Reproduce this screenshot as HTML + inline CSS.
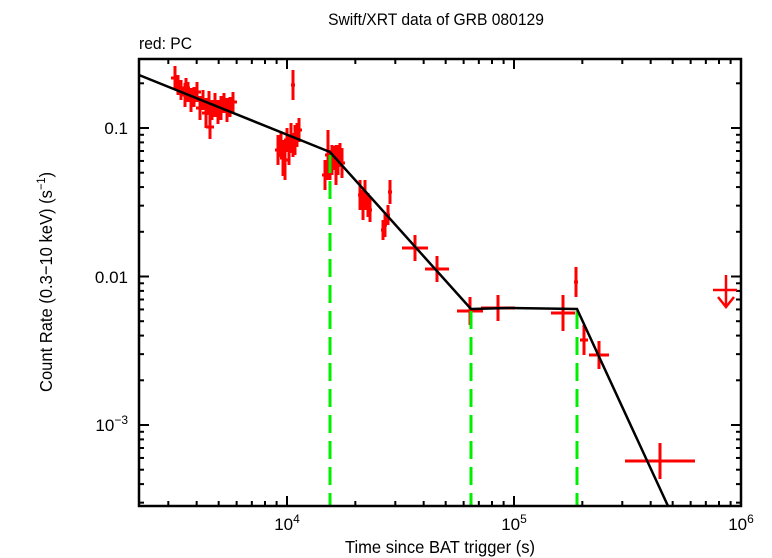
<!DOCTYPE html>
<html><head><meta charset="utf-8"><style>
html,body{margin:0;padding:0;background:#fff;}
svg{display:block;font-family:"Liberation Sans",sans-serif;}
</style></head><body>
<svg id="s" width="772" height="558" viewBox="0 0 772 558" xmlns="http://www.w3.org/2000/svg">
<rect width="772" height="558" fill="#fff"/>
<text transform="translate(436,25) scale(0.92,1)" font-size="17" text-anchor="middle">Swift/XRT data of GRB 080129</text>
<text transform="translate(139,49) scale(0.92,1)" font-size="17">red: PC</text>
<g id="data" stroke="#f00" stroke-width="3" fill="none"></g>
<g stroke="#0e0" stroke-width="3" stroke-dasharray="18,8">
<line x1="330" y1="155" x2="330" y2="505"/>
<line x1="471" y1="311" x2="471" y2="505"/>
<line x1="577" y1="311" x2="577" y2="505"/>
</g>
<polyline points="139,75 330,152 471,309 510,308 577,309 668,506" stroke="#000" stroke-width="2.5" fill="none"/>
<g id="ticks" stroke="#000" stroke-width="2"></g>
<rect x="139" y="59" width="602" height="447" fill="none" stroke="#000" stroke-width="2.5"/>
<g font-size="17" text-anchor="middle">
<text x="287" y="530">10<tspan font-size="12" dy="-7">4</tspan></text>
<text x="514" y="530">10<tspan font-size="12" dy="-7">5</tspan></text>
<text x="741" y="530">10<tspan font-size="12" dy="-7">6</tspan></text>
</g>
<g font-size="17" text-anchor="end">
<text x="128" y="134">0.1</text>
<text x="128" y="283">0.01</text>
<text x="128" y="431">10<tspan font-size="12" dy="-7">−3</tspan></text>
</g>
<text transform="translate(440,553) scale(0.92,1)" font-size="18" text-anchor="middle">Time since BAT trigger (s)</text>
<text transform="translate(52,282) rotate(-90) scale(0.92,1)" font-size="18" text-anchor="middle">Count Rate (0.3−10 keV) (s<tspan font-size="12" dy="-7">−1</tspan><tspan dy="7">)</tspan></text>
<g stroke="#f00" stroke-width="2.5" fill="none">
<line x1="713" y1="290" x2="737" y2="290"/>
<line x1="726" y1="275" x2="726" y2="306"/>
<polyline points="718,297 726,307 734,297"/>
</g>
</svg>
<script>
var NS="http://www.w3.org/2000/svg";
function L(g,x1,y1,x2,y2){var l=document.createElementNS(NS,"line");l.setAttribute("x1",x1);l.setAttribute("y1",y1);l.setAttribute("x2",x2);l.setAttribute("y2",y2);g.appendChild(l);}
var t=document.getElementById("ticks");
var X0=287,DX=227,Y0=128,DY=148.5;
for(var d=3;d<6;d++)for(var m=1;m<10;m++){var x=X0+(d-4+Math.log10(m))*DX;if(x<139||x>741)continue;var len=m==1?10:5;L(t,x,506,x,506-len);L(t,x,59,x,59+len);}
for(var d=-4;d<0;d++)for(var m=1;m<10;m++){var y=Y0-(d+1+Math.log10(m))*DY;if(y<59||y>506)continue;var len=m==1?10:5;L(t,139,y,139+len,y);L(t,741,y,741-len,y);}
var g=document.getElementById("data");
var P=[[175,78,12,4],[178,85,10,4],[181,90,10,4],[185,95,12,4],[188,92,10,4],[191,100,12,4],[194,97,10,4],[197,92,10,4],[200,108,12,4],[203,100,10,4],[206,113,15,4],[209,103,12,4],[212,110,10,4],[215,105,12,4],[218,112,12,4],[221,108,12,4],[224,103,10,4],[227,110,12,4],[230,107,10,4],[233,102,10,4],[210,127,12,4],[186,88,10,4],
[278,150,15,3],[281,145,12,3],[283,158,18,3],[285,160,20,3],[287,140,12,3],[289,150,15,3],[291,138,15,3],[293,145,12,3],[295,140,15,3],[297,135,12,3],[299,130,12,3],[293,85,15,2],
[325,175,15,3],[328,155,25,3],[330,165,15,3],[332,160,15,3],[334,158,12,3],[336,165,20,3],[338,160,15,3],[340,155,12,3],[342,163,15,3],
[360,195,15,2],[363,205,15,2],[365,195,15,2],[368,205,12,2],[370,210,12,2],[385,225,12,2],[388,215,10,2],[390,192,12,2],[383,230,10,2],
[415,248,13,13],[437,269,13,12],[470,311,14,13],[498,308,13,17],[563,313,18,12],[576,282,15,2],[584,340,15,4],[599,355,14,10],[660,461,18,35]];
P.forEach(function(p){L(g,p[0],p[1]-p[2],p[0],p[1]+p[2]);L(g,p[0]-p[3],p[1],p[0]+p[3],p[1]);});
</script>
</body></html>
